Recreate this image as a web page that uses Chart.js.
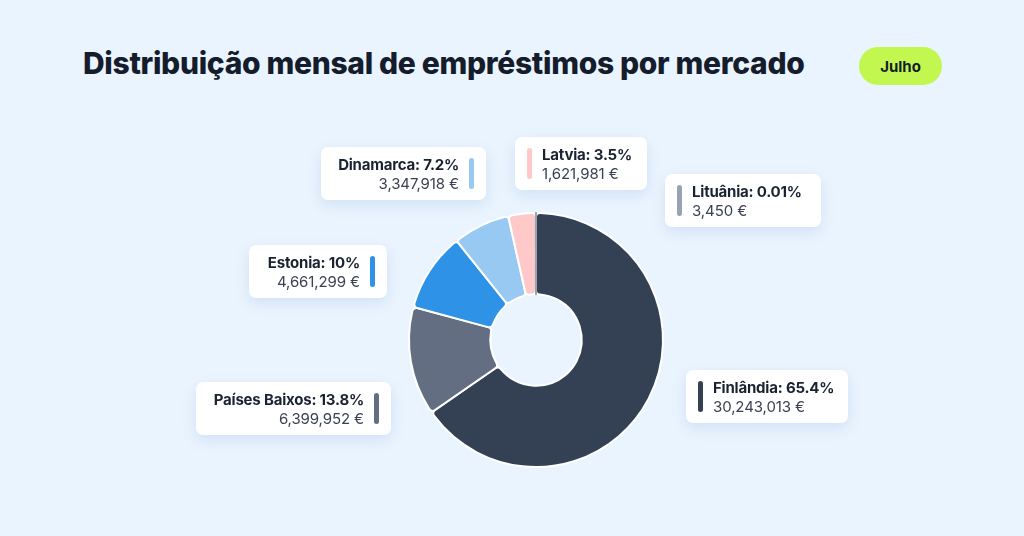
<!DOCTYPE html>
<html>
<head>
<meta charset="utf-8">
<script src="https://cdn.jsdelivr.net/npm/chart.js@4.4.1/dist/chart.umd.min.js"></script>
<style>
  html, body { margin: 0; padding: 0; }
  body { width: 1024px; height: 536px; background: #EAF4FE; position: relative; overflow: hidden; font-family: Inter, "Noto Sans", sans-serif; }
  #title { position: absolute; left: 83px; top: 45px; font-size: 30px; font-weight: 800; color: #151c2c; letter-spacing: -0.32px; white-space: nowrap; }
  #pill { position: absolute; left: 859px; top: 47px; width: 83px; height: 38px; border-radius: 19px; background: #C2F74F; color: #151c2c; font-weight: 700; font-size: 15px; display: flex; align-items: center; justify-content: center; }
  #chartBox { position: absolute; left: 336px; top: 140px; width: 400px; height: 400px; }
  .card { position: absolute; height: 53px; background: #ffffff; border-radius: 7px; box-shadow: 0 5px 14px rgba(120, 160, 215, 0.22); box-sizing: border-box; z-index: 2; }
  .card .bar { position: absolute; top: 11px; width: 5px; height: 31px; border-radius: 3px; }
  .card .txt { position: absolute; top: 8px; white-space: nowrap; }
  .card .l1 { font-size: 15px; font-weight: 700; color: #1a2131; line-height: 19px; letter-spacing: -0.2px; }
  .card .l2 { font-size: 15px; font-weight: 400; color: #3a4152; line-height: 19px; letter-spacing: -0.1px; }
  .card.right .bar { right: 12px; }
  .card.right .txt { right: 27px; text-align: right; }
  .card.left .bar { left: 12px; }
  .card.left .txt { left: 27px; text-align: left; }
</style>
</head>
<body>
<div id="title">Distribuição mensal de empréstimos por mercado</div>
<div id="pill">Julho</div>
<div id="chartBox"><canvas id="c"></canvas></div>
<div id="cards"></div>
<script>
const markets = ["Finlândia", "Países Baixos", "Estonia", "Dinamarca", "Latvia", "Lituânia"];
const amounts = [30243013, 6399952, 4661299, 3347918, 1621981, 3450];
const percentLabels = ["65.4%", "13.8%", "10%", "7.2%", "3.5%", "0.01%"];
const sliceColors = ["#344054", "#646E82", "#2E93E6", "#98C9F3", "#FFC9C9", "#98A2B3"];

// card layout (position only)
const cardLayout = [
  { side: "left",  x: 686, y: 370, w: 162 },
  { side: "right", x: 196, y: 382, w: 195 },
  { side: "right", x: 249, y: 245, w: 138 },
  { side: "right", x: 321, y: 147, w: 165 },
  { side: "left",  x: 515, y: 137, w: 132 },
  { side: "left",  x: 665, y: 174, w: 156 }
];

const fmt = n => n.toLocaleString("en-US") + " €";

const cardsEl = document.getElementById("cards");
markets.forEach((m, i) => {
  const L = cardLayout[i];
  const d = document.createElement("div");
  d.className = "card " + L.side;
  d.style.left = L.x + "px";
  d.style.top = L.y + "px";
  d.style.width = L.w + "px";
  d.innerHTML = '<div class="bar" style="background:' + sliceColors[i] + '"></div>' +
    '<div class="txt"><div class="l1">' + m + ': ' + percentLabels[i] + '</div><div class="l2">' + fmt(amounts[i]) + '</div></div>';
  cardsEl.appendChild(d);
});

const borderColors = sliceColors.map((c, i) => i === sliceColors.length - 1 ? c : "#ffffff");

new Chart(document.getElementById("c"), {
  type: "doughnut",
  data: {
    labels: markets,
    datasets: [{
      data: amounts,
      backgroundColor: sliceColors,
      borderColor: borderColors,
      borderWidth: 2,
      borderRadius: 4
    }]
  },
  options: {
    responsive: true,
    maintainAspectRatio: false,
    animation: false,
    radius: 127,
    cutout: "36%",
    layout: { padding: 0 },
    plugins: { legend: { display: false }, tooltip: { enabled: false } }
  }
});
</script>
</body>
</html>
